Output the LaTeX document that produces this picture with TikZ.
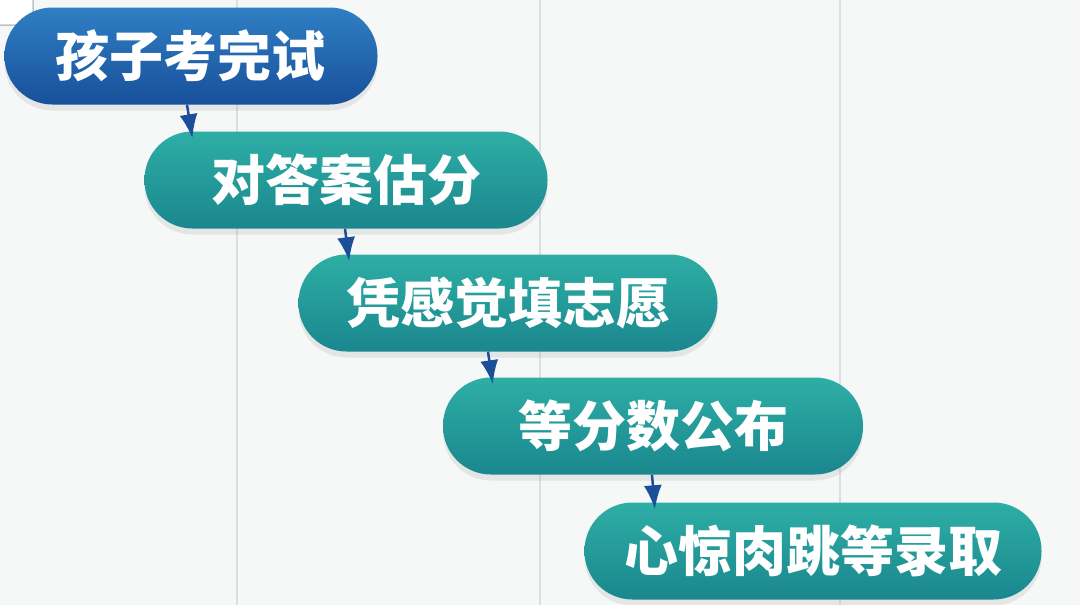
\documentclass[tikz,border=0pt]{standalone}
\usepackage{fontspec}
\newfontfamily\cjk{Noto Sans CJK SC}
\usepackage{xcolor}
\usetikzlibrary{arrows.meta,shadows}
\definecolor{paper}{HTML}{F6F8F8}
\definecolor{rule}{HTML}{DCDFE0}
\definecolor{frame}{HTML}{BFC4C6}
\definecolor{blueTop}{HTML}{2F7FC4}
\definecolor{blueBot}{HTML}{18509A}
\definecolor{tealTop}{HTML}{2EAEA5}
\definecolor{tealBot}{HTML}{1A878E}
\definecolor{arrowBlue}{HTML}{1B4F9A}
\tikzset{edge/.style = {-{Latex[length=24pt,width=18pt]}, line width=2.5pt, draw=arrowBlue, shorten >=-7pt}}

\begin{document}
\begin{tikzpicture}[x=1pt,y=-1pt,
    stage node/.style={rounded corners=48pt,minimum height=97pt,inner sep=0pt,
        font=\cjk\bfseries\fontsize{54pt}{54pt}\selectfont,text=white,
        drop shadow={opacity=0.15,shadow xshift=0pt,shadow yshift=-6pt}},
    blue stage/.style={stage node,top color=blueTop,bottom color=blueBot},
    teal stage/.style={stage node,top color=tealTop,bottom color=tealBot}]
    \useasboundingbox[fill=paper] (0,0) rectangle (1080,605);
    \foreach \x in {237,540,840}
        \draw[rule,line width=1.2pt] (\x,0) -- (\x,605);
    \draw[frame,fill=white,line width=1.5pt,rounded corners=6pt] (-12,-12) rectangle (33,25);

    \node[blue stage,minimum width=373pt] (1) at (191,56) {孩子考完试};
    \node[teal stage,minimum width=403pt] (2) at (346,180) {对答案估分};
    \node[teal stage,minimum width=419pt] (3) at (508,303) {凭感觉填志愿};
    \node[teal stage,minimum width=420pt] (4) at (653,426) {等分数公布};
    \node[teal stage,minimum width=457pt] (5) at (813,551) {心惊肉跳等录取};

    \path
        ([xshift=-4pt]1.south) edge[edge] ([xshift=47pt]2.north west)
        ([xshift=-1pt]2.south) edge[edge] ([xshift=50pt]3.north west)
        ([xshift=-20pt]3.south) edge[edge] ([xshift=49pt]4.north west)
        ([xshift=-1pt]4.south) edge[edge] ([xshift=70pt]5.north west)
        ;
\end{tikzpicture}
\end{document}
